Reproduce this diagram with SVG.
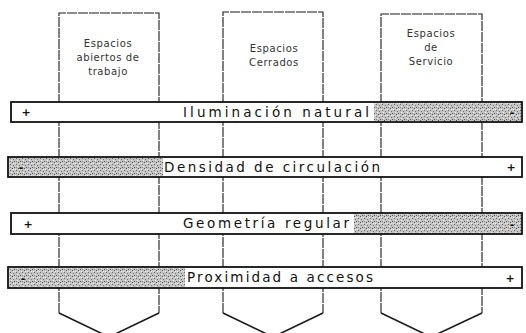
<svg xmlns="http://www.w3.org/2000/svg" width="526" height="333" viewBox="0 0 526 333">
<style>
.col{fill:none;stroke:#1a1a1a;stroke-width:1.1;stroke-dasharray:10 1}
.chev{fill:none;stroke:#1a1a1a;stroke-width:1.6}
.bar{stroke:#111;stroke-width:1.8}
.ct{font-family:"DejaVu Sans",Verdana,sans-serif;font-size:10px;fill:#333;text-anchor:middle;letter-spacing:0.6px}
.bt{font-family:"DejaVu Sans",Verdana,sans-serif;font-size:13.5px;fill:#111;text-anchor:middle}
.sg{font-family:"DejaVu Sans",Verdana,sans-serif;font-size:11px;fill:#111;text-anchor:middle;font-weight:bold}
</style>
<defs>
<pattern id="dots" width="6" height="6" patternUnits="userSpaceOnUse">
<rect width="6" height="6" fill="#c4c4c4"/>
<rect x="0" y="0" width="1" height="1" fill="#555"/>
<rect x="3" y="1" width="1" height="1" fill="#eee"/>
<rect x="4" y="2" width="1" height="1" fill="#666"/>
<rect x="1" y="3" width="1" height="1" fill="#777"/>
<rect x="5" y="4" width="1" height="1" fill="#f2f2f2"/>
<rect x="2" y="5" width="1" height="1" fill="#5a5a5a"/>
<rect x="1" y="1" width="1" height="1" fill="#e8e8e8"/>
<rect x="4" y="5" width="1" height="1" fill="#888"/>
</pattern>
</defs>
<rect width="526" height="333" fill="#fff"/>
<g id="connectors">
<path class="col" d="M59,313 V13 H159 V313"/>
<path class="chev" d="M59,313 L109,337 L159,313"/>
<path class="col" d="M223,313 V12 H323 V313"/>
<path class="chev" d="M223,313 L273,337 L323,313"/>
<path class="col" d="M381,313 V14 H482 V313"/>
<path class="chev" d="M381,313 L431,337 L482,313"/>
</g>
<g id="col1">
<text class="ct" x="108" y="47">Espacios</text>
<text class="ct" x="108" y="61">abiertos de</text>
<text class="ct" x="108" y="75">trabajo</text>
</g>
<g id="col2">
<text class="ct" x="274" y="52">Espacios</text>
<text class="ct" x="274" y="66">Cerrados</text>
</g>
<g id="col3">
<text class="ct" x="431" y="37">Espacios</text>
<text class="ct" x="431" y="51">de</text>
<text class="ct" x="431" y="65">Servicio</text>
</g>
<g id="bar1">
<rect class="bar" x="11" y="102" width="511" height="20" fill="#fff"/>
<rect x="374" y="103" width="147" height="18" fill="url(#dots)"/>
<text class="sg" x="26" y="116">+</text>
<text class="bt" x="276" y="117" textLength="186" lengthAdjust="spacing">Iluminación natural</text>
<text class="sg" x="512" y="116">-</text>
</g>
<g id="bar2">
<rect class="bar" x="8" y="157" width="514" height="20" fill="#fff"/>
<rect x="9" y="158" width="154" height="18" fill="url(#dots)"/>
<text class="sg" x="21" y="171">-</text>
<text class="bt" x="272" y="172" textLength="216" lengthAdjust="spacing">Densidad de circulación</text>
<text class="sg" x="511" y="171">+</text>
</g>
<g id="bar3">
<rect class="bar" x="11" y="213" width="511" height="21" fill="#fff"/>
<rect x="354" y="214" width="167" height="19" fill="url(#dots)"/>
<text class="sg" x="28" y="228">+</text>
<text class="bt" x="266" y="228" textLength="166" lengthAdjust="spacing">Geometría regular</text>
<text class="sg" x="512" y="228">-</text>
</g>
<g id="bar4">
<rect class="bar" x="8" y="267" width="514" height="21" fill="#fff"/>
<rect x="9" y="268" width="176" height="19" fill="url(#dots)"/>
<text class="sg" x="23" y="282">-</text>
<text class="bt" x="280" y="282" textLength="186" lengthAdjust="spacing">Proximidad a accesos</text>
<text class="sg" x="510" y="282">+</text>
</g>
</svg>
